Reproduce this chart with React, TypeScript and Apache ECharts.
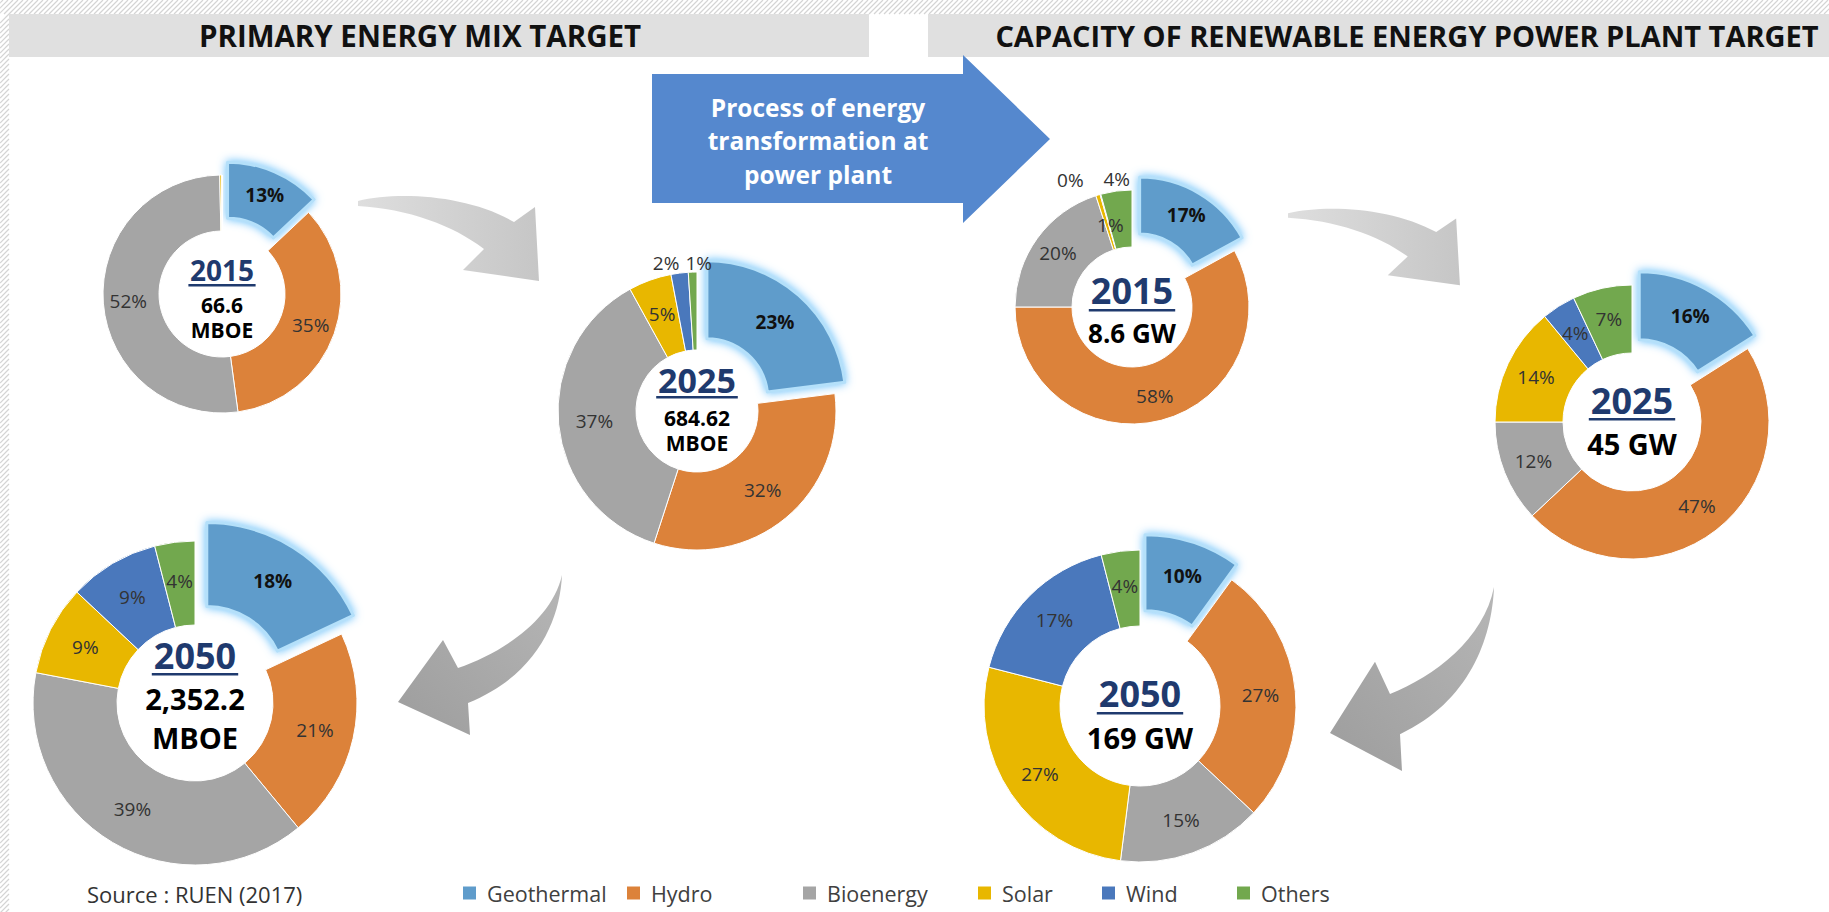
import React, { useEffect, useRef } from 'react';
import * as echarts from 'echarts';

// ---------- DATA ----------
const CATEGORIES = ['Geothermal', 'Hydro', 'Bioenergy', 'Solar', 'Wind', 'Others'];
const COLORS = ['#5F9CCB', '#DC823A', '#A5A5A5', '#E8B700', '#4A78BC', '#72A84E'];

// Primary energy mix target (% share)
const PEM_2015 = [13, 35, 52, 0.3, 0, 0];
const PEM_2025 = [23, 32, 37, 5, 2, 1];
const PEM_2050 = [18, 21, 39, 9, 9, 4];
// Capacity of renewable energy power plant target (% share)
const CRE_2015 = [17, 58, 20, 0.6, 0.1, 4.3];
const CRE_2025 = [16, 47, 12, 14, 4, 7];
const CRE_2050 = [10, 27, 15, 27, 17, 4];

const YEARS = ['2015', '2025', '2050', '2015', '2025', '2050'];
const TOTALS = [['66.6', 'MBOE'], ['684.62', 'MBOE'], ['2,352.2', 'MBOE'], ['8.6 GW'], ['45 GW'], ['169 GW']];

const TITLE_LEFT = 'PRIMARY ENERGY MIX TARGET';
const TITLE_RIGHT = 'CAPACITY OF RENEWABLE ENERGY POWER PLANT TARGET';
const ARROW_TEXT = ['Process of energy', 'transformation at', 'power plant'];
const SOURCE = 'Source : RUEN (2017)';

// ---------- LAYOUT / STYLE ----------
const FONT = "'Open Sans', 'Noto Sans', sans-serif";
const NAVY = '#1F3A6E';
const W = 1829;
const H = 912;

type Nudge = 'hide' | [number, number];
const LAYOUT: {
  cx: number; cy: number; r: number; rin: number; off: number;
  yearSize: number; yearDy: number; ulDy: number; totSize: number; totDy: number[];
  nudge: Record<number, Nudge>;
}[] = [
  { cx: 222, cy: 294, r: 119, rin: 63, off: 14, yearSize: 28, yearDy: -24, ulDy: -10, totSize: 21, totDy: [11, 36], nudge: { 3: 'hide', 4: 'hide', 5: 'hide' } },
  { cx: 697, cy: 411, r: 139, rin: 61, off: 15, yearSize: 34, yearDy: -31, ulDy: -15, totSize: 21, totDy: [7, 32], nudge: { 4: [-18, -46], 5: [5, -45] } },
  { cx: 195, cy: 703, r: 162, rin: 78, off: 22, yearSize: 36, yearDy: -48, ulDy: -30, totSize: 29, totDy: [-5, 34], nudge: {} },
  { cx: 1132, cy: 307, r: 117, rin: 60, off: 15, yearSize: 36, yearDy: -17, ulDy: 2, totSize: 26, totDy: [26], nudge: { 3: [5, 6], 4: [-37, -39], 5: [-3, -37] } },
  { cx: 1632, cy: 422, r: 137, rin: 69, off: 15, yearSize: 36, yearDy: -22, ulDy: -4, totSize: 29, totDy: [21], nudge: {} },
  { cx: 1140, cy: 706, r: 156, rin: 80, off: 16, yearSize: 36, yearDy: -13, ulDy: 6, totSize: 29, totDy: [31], nudge: {} },
];
const LEGEND_X = [463, 627, 803, 978, 1102, 1237];

const ARROW_R_PATH = 'M0 -2 C40 -12 110 -8 156 19 L177 4 L181 78 L105 67 L126 46 C95 22 50 6 0 3 Z';
const ARROW_L_PATH = 'M0 0 C-2 45 -25 100 -94 128 L-92 160 L-164 127 L-119 65 L-104 93 C-60 78 -10 45 0 0 Z';
echarts.graphic.registerShape('curveArrowR', echarts.graphic.extendPath(ARROW_R_PATH, {}) as any);
echarts.graphic.registerShape('curveArrowL', echarts.graphic.extendPath(ARROW_L_PATH, {}) as any);

const GLOW = {
  borderColor: '#B4E0FA',
  borderWidth: 3,
  shadowBlur: 10,
  shadowColor: 'rgba(100,190,250,1)',
};

function txt(text: string, x: number, y: number, fontSize: number, fill: string, bold: boolean, align = 'center', z = 1): any {
  return {
    type: 'text',
    z,
    style: {
      text, x, y, fontSize, fill, fontFamily: FONT, fontWeight: bold ? 'bold' : 'normal',
      align, verticalAlign: 'middle', textAlign: align, textVerticalAlign: 'middle',
    },
  };
}

function buildGraphic(): any[] {
  const els: any[] = [];
  // hatched frame
  for (let x = -16; x < W; x += 5) {
    els.push({ type: 'line', silent: true, shape: { x1: x, y1: 14, x2: x + 14, y2: 0 }, style: { stroke: '#D4D4D4', lineWidth: 1.2 } });
  }
  for (let y = 14; y < H + 10; y += 5) {
    els.push({ type: 'line', silent: true, shape: { x1: 0, y1: y + 9, x2: 9, y2: y }, style: { stroke: '#D4D4D4', lineWidth: 1.2 } });
  }
  // title bars
  els.push({ type: 'rect', shape: { x: 9, y: 14, width: 860, height: 43 }, style: { fill: '#E0E0E0' } });
  els.push({ type: 'rect', shape: { x: 928, y: 14, width: W - 928, height: 43 }, style: { fill: '#E0E0E0' } });
  els.push(txt(TITLE_LEFT, 420, 35, 29.5, '#111', true));
  els.push(txt(TITLE_RIGHT, 1407, 35, 29, '#111', true));
  // blue process arrow
  els.push({
    type: 'polygon',
    shape: { points: [[652, 74], [963, 74], [963, 55], [1050, 139], [963, 223], [963, 203], [652, 203]] },
    style: { fill: '#5588CE' },
  });
  ARROW_TEXT.forEach((t, i) => {
    els.push(txt(t, 818, 107 + i * 33.5, 24.5, '#fff', true));
  });
  // gray curved arrows
  const lightGrad = new echarts.graphic.LinearGradient(0, 0, 1, 0, [
    { offset: 0, color: '#DEDEDE' },
    { offset: 1, color: '#C6C6C6' },
  ]);
  const darkGrad = new echarts.graphic.LinearGradient(1, 0, 0, 1, [
    { offset: 0, color: '#B6B6B6' },
    { offset: 1, color: '#9D9D9D' },
  ]);
  els.push({ type: 'curveArrowR', x: 358, y: 203, style: { fill: lightGrad } });
  els.push({ type: 'curveArrowR', x: 1288, y: 215, scaleX: 0.95, scaleY: 0.9, style: { fill: lightGrad } });
  els.push({ type: 'curveArrowL', x: 562, y: 575, style: { fill: darkGrad } });
  els.push({ type: 'curveArrowL', x: 1494, y: 587, scaleX: 1, scaleY: 1.15, style: { fill: darkGrad } });

  // donut centre texts
  LAYOUT.forEach((L, k) => {
    els.push(txt(YEARS[k], L.cx, L.cy + L.yearDy, L.yearSize, NAVY, true, 'center', 10));
    const uw = L.yearSize * 2.4;
    els.push({ type: 'rect', z: 10, shape: { x: L.cx - uw / 2, y: L.cy + L.ulDy, width: uw, height: 2.5 }, style: { fill: NAVY } });
    TOTALS[k].forEach((t, j) => {
      els.push(txt(t, L.cx, L.cy + L.totDy[j], L.totSize, '#000', true, 'center', 10));
    });
  });

  // source
  els.push(txt(SOURCE, 87, 894, 22, '#333', false, 'left'));
  return els;
}

function buildOption(): any {
  const allData = [PEM_2015, PEM_2025, PEM_2050, CRE_2015, CRE_2025, CRE_2050];
  const names = ['Primary 2015', 'Primary 2025', 'Primary 2050', 'Capacity 2015', 'Capacity 2025', 'Capacity 2050'];
  const series = allData.map((vals, k) => {
    const L = LAYOUT[k];
    return {
      type: 'pie',
      name: names[k],
      center: [L.cx, L.cy],
      radius: [L.rin, L.r],
      startAngle: 90,
      clockwise: true,
      selectedMode: 'multiple',
      selectedOffset: L.off,
      avoidLabelOverlap: false,
      emphasis: { disabled: true, scale: false },
      label: {
        show: true,
        position: 'inside',
        formatter: (p: any) => Math.round(p.value) + '%',
        color: '#333333',
        fontSize: 19,
        fontFamily: FONT,
      },
      labelLine: { show: false },
      itemStyle: { borderColor: '#fff', borderWidth: 1 },
      labelLayout: (p: any) => {
        const n = L.nudge[p.dataIndex];
        return Array.isArray(n) ? { dx: n[0], dy: n[1] } : {};
      },
      data: vals.map((v, i) => {
        const item: any = { name: CATEGORIES[i], value: v };
        if (i === 0) {
          item.selected = true;
          item.itemStyle = { ...GLOW };
          item.select = { itemStyle: { ...GLOW } };
          item.label = { fontWeight: 'bold', color: '#111' };
        } else if (L.nudge[i] === 'hide') {
          item.label = { show: false };
        }
        return item;
      }),
    };
  });

  return {
    animation: false,
    backgroundColor: '#ffffff',
    color: COLORS,
    legend: CATEGORIES.map((name, i) => ({
      data: [name],
      left: LEGEND_X[i],
      top: 882,
      padding: 0,
      icon: 'rect',
      itemWidth: 13,
      itemHeight: 13,
      selectedMode: false,
      itemStyle: { borderWidth: 0 },
      textStyle: { fontSize: 21.5, color: '#404040', fontFamily: FONT, padding: [0, 0, 0, 6] },
    })),
    graphic: buildGraphic(),
    series,
  };
}

export default function App() {
  const ref = useRef<HTMLDivElement>(null);
  useEffect(() => {
    const chart = echarts.init(ref.current!, null, { renderer: 'svg', width: W, height: H });
    chart.setOption(buildOption());
    return () => chart.dispose();
  }, []);
  return (
    <div
      ref={ref}
      style={{ position: 'fixed', left: 0, top: 0, width: W, height: H, background: '#fff' }}
    />
  );
}
